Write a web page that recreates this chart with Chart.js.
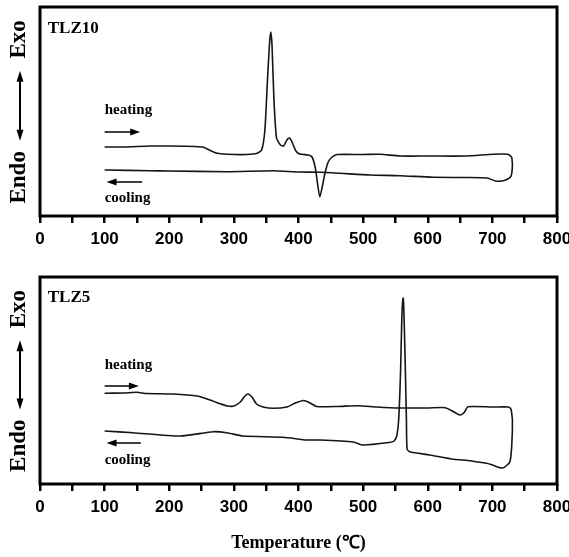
<!DOCTYPE html>
<html>
<head>
<meta charset="utf-8">
<title>DSC curves TLZ10 / TLZ5</title>
<script src="https://cdn.jsdelivr.net/npm/chart.js@4.4.1/dist/chart.umd.min.js"></script>
<style>
  html, body { margin: 0; padding: 0; background: #fff; }
  #wrap { position: relative; width: 569px; height: 557px; }
  .panel { position: absolute; left: 0; width: 569px; }
  #top { top: 0; height: 260px; }
  #bot { top: 258px; height: 299px; }
</style>
</head>
<body>
<div id="wrap">
  <div class="panel" id="top"><canvas id="tlz10"></canvas></div>
  <div class="panel" id="bot"><canvas id="tlz5"></canvas></div>
</div>
<script>
// --- Data (temperature in C, heat flow in arbitrary units) ---
const xTickLabels = [0, 100, 200, 300, 400, 500, 600, 700, 800];

const tlz10HeatT = [100, 130, 170, 200, 240, 253, 262, 274, 290, 320, 336, 343, 348, 352, 355, 357, 359, 362, 366, 372,
  377, 382, 386, 390, 396, 402, 415, 421, 426, 430, 433, 437, 441, 446, 452, 460, 500, 526, 557, 600, 660, 701, 724, 730];
const tlz10HeatV = [69, 69, 70, 70, 69.5, 68.7, 66, 62.7, 61.7, 61.5, 62.7, 66, 86, 136, 171, 184, 171, 116, 78, 71,
  70, 76, 78, 74, 65, 62, 61, 59, 48, 30, 19, 30, 43, 54, 59, 61.5, 61.5, 61.7, 60, 60, 60, 61.7, 61.7, 59];
const tlz10CoolT = [730, 731, 729, 724, 715, 705, 692, 660, 608, 557, 511, 464, 433, 400, 361, 289, 200, 170, 103, 100];
const tlz10CoolV = [59, 51, 40, 37, 35, 35, 38, 38.5, 38.7, 40.3, 41, 42.7, 43.7, 44, 45.3, 44.3, 45, 45.3, 46, 46];

const tlz5HeatT = [100, 130, 150, 165, 206, 243, 263, 280, 290, 300, 310, 317, 322, 328, 335, 345, 361, 382, 395, 408,
  418, 428, 460, 492, 521, 557, 600, 627, 640, 650, 657, 662, 700, 725, 729];
const tlz5HeatV = [90.7, 91, 91.7, 90.5, 90, 88, 84, 80, 78, 78, 82, 88, 90, 87, 80, 77, 75.7, 77, 81, 83.5,
  81, 77.5, 77.5, 78.3, 77, 76, 76, 76.3, 72.3, 69, 72, 77.3, 77, 77, 75];
const tlz5CoolT = [729, 731, 730, 727, 716, 700, 691, 655, 640, 603, 572, 568, 567, 565, 563, 562, 560, 558, 555, 552, 548,
  540, 500, 485, 433, 413, 376, 314, 289, 268, 217, 144, 100];
const tlz5CoolV = [75, 64, 39, 22, 16, 19, 20.7, 24, 24.7, 29, 32.3, 35, 64, 124, 174, 186, 169, 114, 64, 48, 43,
  41.5, 39, 42, 44, 44, 46.7, 48, 51.3, 52.3, 48, 51.3, 53];

// labels inside each panel, placed in data units
const tlz10Notes = { name: 'TLZ10', nameAt: [12, 187], heatAt: [100, 106], heatArrow: [100, 155, 84],
  coolAt: [100, 18], coolArrow: [158, 103, 34] };
const tlz5Notes = { name: 'TLZ5', nameAt: [12, 186], heatAt: [100, 119], heatArrow: [100, 153, 98],
  coolAt: [100, 24], coolArrow: [156, 103, 41] };

const SERIF = '"Liberation Serif", "Times New Roman", serif';
const NARROW = '"Liberation Sans Narrow", "Arial Narrow", "Liberation Sans", Arial, sans-serif';

function toPoints(xs, ys) {
  return xs.map((x, i) => ({ x: x, y: ys[i] }));
}

function hArrow(ctx, x1, x2, y) {
  const d = x2 > x1 ? 1 : -1;
  ctx.beginPath();
  ctx.moveTo(x1, y);
  ctx.lineTo(x2 - d * 6, y);
  ctx.stroke();
  ctx.beginPath();
  ctx.moveTo(x2, y);
  ctx.lineTo(x2 - d * 10, y - 3.5);
  ctx.lineTo(x2 - d * 10, y + 3.5);
  ctx.closePath();
  ctx.fill();
}

// frame around the plot area
const framePlugin = {
  id: 'frame',
  afterDraw(chart) {
    const { ctx, chartArea: a } = chart;
    ctx.save();
    ctx.lineWidth = 3;
    ctx.strokeStyle = '#000';
    ctx.strokeRect(a.left, a.top, a.right - a.left, a.bottom - a.top);
    ctx.restore();
  }
};

// sample name, heating / cooling hints and the Endo <-> Exo side label
const notesPlugin = {
  id: 'notes',
  afterDatasetsDraw(chart, args, opts) {
    const { ctx, chartArea: a, scales: { x, y } } = chart;
    const n = opts.notes;
    ctx.save();
    ctx.fillStyle = '#000';
    ctx.strokeStyle = '#000';
    ctx.textBaseline = 'middle';
    ctx.textAlign = 'left';

    ctx.font = 'bold 17px ' + SERIF;
    ctx.fillText(n.name, x.getPixelForValue(n.nameAt[0]), y.getPixelForValue(n.nameAt[1]));

    ctx.font = 'bold 15px ' + SERIF;
    ctx.fillText('heating', x.getPixelForValue(n.heatAt[0]), y.getPixelForValue(n.heatAt[1]));
    ctx.fillText('cooling', x.getPixelForValue(n.coolAt[0]), y.getPixelForValue(n.coolAt[1]));

    ctx.lineWidth = 1.5;
    hArrow(ctx, x.getPixelForValue(n.heatArrow[0]), x.getPixelForValue(n.heatArrow[1]), y.getPixelForValue(n.heatArrow[2]));
    hArrow(ctx, x.getPixelForValue(n.coolArrow[0]), x.getPixelForValue(n.coolArrow[1]), y.getPixelForValue(n.coolArrow[2]));

    // side label
    const h = a.bottom - a.top;
    const sx = a.left - 21;
    ctx.font = 'bold 23px ' + SERIF;
    ctx.textAlign = 'center';
    [['Exo', 0.155], ['Endo', 0.815]].forEach(([t, f]) => {
      ctx.save();
      ctx.translate(sx, a.top + f * h);
      ctx.rotate(-Math.PI / 2);
      ctx.fillText(t, 0, 0);
      ctx.restore();
    });
    const ax = a.left - 20;
    const y1 = a.top + 0.305 * h, y2 = a.top + 0.64 * h;
    ctx.lineWidth = 2;
    ctx.beginPath();
    ctx.moveTo(ax, y1 + 6);
    ctx.lineTo(ax, y2 - 6);
    ctx.stroke();
    [[y1, 1], [y2, -1]].forEach(([yy, d]) => {
      ctx.beginPath();
      ctx.moveTo(ax, yy);
      ctx.lineTo(ax - 3.5, yy + d * 11);
      ctx.lineTo(ax + 3.5, yy + d * 11);
      ctx.closePath();
      ctx.fill();
    });
    ctx.restore();
  }
};

function makeChart(id, heat, cool, yMax, notes, pad, axisHeight, withTitle) {
  const line = { showLine: true, pointRadius: 0, borderColor: '#151515', borderWidth: 1.6, tension: 0.2, fill: false };
  return new Chart(document.getElementById(id), {
    type: 'scatter',
    data: {
      datasets: [
        Object.assign({ label: 'heating', data: heat }, line),
        Object.assign({ label: 'cooling', data: cool }, line)
      ]
    },
    options: {
      responsive: true,
      maintainAspectRatio: false,
      animation: false,
      layout: { padding: pad },
      plugins: {
        legend: { display: false },
        tooltip: { enabled: false },
        notes: { notes: notes }
      },
      scales: {
        x: {
          type: 'linear',
          min: 0,
          max: 800,
          afterFit: (s) => {
            s.height = axisHeight;
            s.paddingLeft = 0;
            s.paddingRight = 0;
          },
          border: { display: false },
          grid: { drawOnChartArea: false, drawTicks: true, tickLength: 7, lineWidth: 2.5, color: '#000' },
          ticks: {
            stepSize: 50,
            autoSkip: false,
            maxRotation: 0,
            padding: 6,
            color: '#000',
            font: { family: NARROW, weight: 'bold', size: 17 },
            callback: (v) => xTickLabels.includes(v) ? String(v) : ''
          },
          title: {
            display: withTitle,
            text: 'Temperature (\u2103)',
            color: '#000',
            font: { family: SERIF, weight: 'bold', size: 18 },
            padding: { top: 0, bottom: 3 }
          }
        },
        y: { display: false, min: 0, max: yMax }
      }
    },
    plugins: [notesPlugin, framePlugin]
  });
}

makeChart('tlz10', toPoints(tlz10HeatT, tlz10HeatV), toPoints(tlz10CoolT, tlz10CoolV), 209, tlz10Notes,
  { left: 40, right: 12, top: 7, bottom: 0 }, 44, false);
makeChart('tlz5', toPoints(tlz5HeatT, tlz5HeatV), toPoints(tlz5CoolT, tlz5CoolV), 207, tlz5Notes,
  { left: 40, right: 12, top: 19, bottom: 0 }, 73, true);
</script>
</body>
</html>
